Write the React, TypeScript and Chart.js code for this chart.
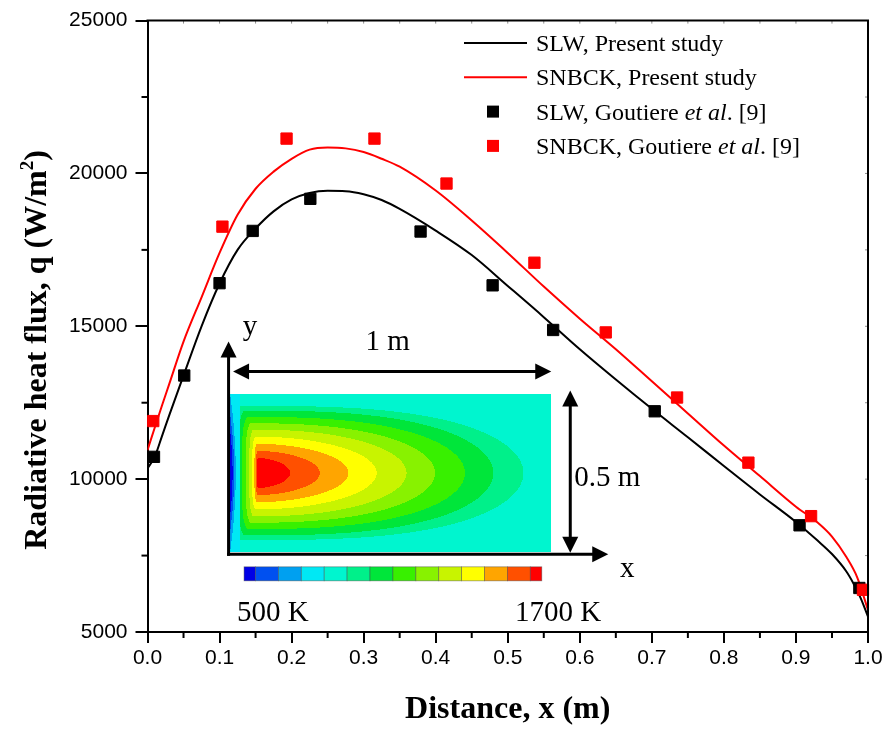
import { useEffect, useRef } from "react";
import { Chart, registerables } from "chart.js";

Chart.register(...registerables);

// Axis ticks
const X_TICKS = [0, 0.1, 0.2, 0.3, 0.4, 0.5, 0.6, 0.7, 0.8, 0.9, 1.0];
const Y_TICKS = [5000, 10000, 15000, 20000, 25000];

// SLW model, present study: wall distance (m) and radiative heat flux (W/m2)
const SLW_X = [0, 0.01, 0.02, 0.03, 0.05, 0.075, 0.1, 0.125, 0.15, 0.175, 0.2, 0.225, 0.25, 0.275, 0.3, 0.325, 0.35, 0.4, 0.45, 0.5, 0.55, 0.6, 0.65, 0.7, 0.75, 0.8, 0.85, 0.9, 0.93, 0.95, 0.97, 0.98, 0.99, 1.0];
const SLW_Q = [10350, 10730, 11400, 12080, 13390, 15000, 16400, 17500, 18200, 18760, 19150, 19360, 19430, 19420, 19320, 19130, 18840, 18130, 17330, 16320, 15300, 14250, 13260, 12300, 11370, 10430, 9500, 8600, 7990, 7550, 6980, 6580, 6100, 5500];

// SNBCK model, present study
const SNBCK_X = [0, 0.01, 0.02, 0.03, 0.05, 0.075, 0.1, 0.125, 0.15, 0.175, 0.2, 0.225, 0.25, 0.275, 0.3, 0.325, 0.35, 0.4, 0.45, 0.5, 0.55, 0.6, 0.65, 0.7, 0.75, 0.8, 0.85, 0.9, 0.93, 0.95, 0.97, 0.985, 1.0];
const SNBCK_Q = [10950, 11680, 12400, 13100, 14500, 15950, 17400, 18650, 19500, 20060, 20480, 20780, 20850, 20820, 20700, 20480, 20220, 19440, 18460, 17400, 16300, 15250, 14250, 13200, 12150, 11100, 10100, 9100, 8580, 8120, 7450, 6790, 5720];

// Reference results of Goutiere et al.
const SLW_REF_X = [0.009, 0.051, 0.1, 0.146, 0.226, 0.379, 0.479, 0.563, 0.704, 0.905, 0.988];
const SLW_REF_Q = [10730, 13390, 16410, 18120, 19170, 18100, 16340, 14880, 12220, 8490, 6440];
const SNBCK_REF_X = [0.008, 0.104, 0.193, 0.315, 0.415, 0.537, 0.636, 0.735, 0.834, 0.921, 0.993];
const SNBCK_REF_Q = [11900, 18260, 21140, 21140, 19670, 17080, 14800, 12670, 10540, 8790, 6380];

// Temperature colour scale of the enclosure sketch, 500 K to 1700 K
const TEMP_COLORS = ["#0000e6", "#0050f0", "#00a0f0", "#00e8f4", "#00f5cf", "#00f08a", "#00e63a", "#38f000", "#88f200", "#c8f400", "#ffff00", "#ffa500", "#ff5000", "#ff0000"];
const TEMP_MIN_LABEL = "500 K";
const TEMP_MAX_LABEL = "1700 K";

const SERIF = "'Liberation Serif', 'Times New Roman', serif";
const SANS = "'Liberation Sans', Arial, sans-serif";

// Flame temperature bands inside the enclosure, outermost first
const FLAME_BANDS = [
  { c: 5, u0: 0.031, tip: 0.914, h: 0.85, p: 3.0, a: 0.025 },
  { c: 6, u0: 0.047, tip: 0.82, h: 0.79, p: 2.8, a: 0.022 },
  { c: 7, u0: 0.057, tip: 0.732, h: 0.71, p: 2.6, a: 0.02 },
  { c: 8, u0: 0.066, tip: 0.639, h: 0.63, p: 2.4, a: 0.017 },
  { c: 9, u0: 0.074, tip: 0.55, h: 0.55, p: 2.2, a: 0.014 },
  { c: 10, u0: 0.08, tip: 0.457, h: 0.46, p: 2.0, a: 0.011 },
  { c: 11, u0: 0.085, tip: 0.369, h: 0.37, p: 1.9, a: 0.009 },
  { c: 12, u0: 0.087, tip: 0.28, h: 0.28, p: 1.8, a: 0.007 },
  { c: 13, u0: 0.089, tip: 0.187, h: 0.19, p: 1.7, a: 0.006 },
];

// Sketch placement in axis units
const INSET = { x0: 0.1146, x1: 0.5604, qTop: 12770, qBottom: 7590 };

function pairs(xs: number[], ys: number[]) {
  return xs.map((x, i) => ({ x, y: ys[i] }));
}

function hexRgb(h: string) {
  const n = parseInt(h.slice(1), 16);
  return [(n >> 16) & 255, (n >> 8) & 255, n & 255];
}

function flameColorIndex(u: number, v: number): number {
  const av = Math.abs(v);
  let c = 4;
  for (const b of FLAME_BANDS) {
    let inside: boolean;
    if (u >= b.u0) {
      const t = (u - b.u0) / (b.tip - b.u0);
      inside = t <= 1 && (av / b.h) ** 2 + t ** b.p <= 1;
    } else {
      const t = (b.u0 - u) / b.a;
      inside = t * t + (av / b.h) ** 4 <= 1;
    }
    if (inside) c = b.c;
  }
  // cooler layer along the inlet wall
  if (u < 0.03) c = 3;
  if (u < 0.018 * (1 - av * av)) c = 2;
  if (u < 0.013 * (1 - (av / 0.75) ** 2)) c = 1;
  if (u < 0.008 * (1 - (av / 0.55) ** 2)) c = 0;
  return c;
}

type Seg = { text: string; font: string; dy?: number };

function segsWidth(ctx: CanvasRenderingContext2D, segs: Seg[]) {
  let w = 0;
  for (const s of segs) {
    ctx.font = s.font;
    w += ctx.measureText(s.text).width;
  }
  return w;
}

function drawSegs(ctx: CanvasRenderingContext2D, segs: Seg[], x: number, y: number) {
  let cx = x;
  for (const s of segs) {
    ctx.font = s.font;
    ctx.fillText(s.text, cx, y + (s.dy || 0));
    cx += ctx.measureText(s.text).width;
  }
}

function labelSegs(label: string, size: number): Seg[] {
  return label
    .split(/(et al)/)
    .filter((t) => t.length > 0)
    .map((t) => ({ text: t, font: `${t === "et al" ? "italic " : ""}${size}px ${SERIF}` }));
}

function arrowHead(ctx: CanvasRenderingContext2D, tx: number, ty: number, dx: number, dy: number) {
  const len = 16;
  const half = 8;
  const bx = tx - dx * len;
  const by = ty - dy * len;
  ctx.beginPath();
  ctx.moveTo(tx, ty);
  ctx.lineTo(bx - dy * half, by + dx * half);
  ctx.lineTo(bx + dy * half, by - dx * half);
  ctx.closePath();
  ctx.fill();
}

function line(ctx: CanvasRenderingContext2D, x1: number, y1: number, x2: number, y2: number) {
  ctx.beginPath();
  ctx.moveTo(x1, y1);
  ctx.lineTo(x2, y2);
  ctx.stroke();
}

function drawInset(ctx: CanvasRenderingContext2D, xs: any, ys: any) {
  const L = xs.getPixelForValue(INSET.x0);
  const R = xs.getPixelForValue(INSET.x1);
  const T = ys.getPixelForValue(INSET.qTop);
  const B = ys.getPixelForValue(INSET.qBottom);
  const W = Math.round(R - L);
  const H = Math.round(B - T);

  // temperature field
  const off = document.createElement("canvas");
  off.width = W;
  off.height = H;
  const octx = off.getContext("2d")!;
  const img = octx.createImageData(W, H);
  const rgb = TEMP_COLORS.map(hexRgb);
  for (let j = 0; j < H; j++) {
    const v = (j + 0.5 - H / 2) / (H / 2);
    for (let i = 0; i < W; i++) {
      const u = (i + 0.5) / W;
      const col = rgb[flameColorIndex(u, v)];
      const k = (j * W + i) * 4;
      img.data[k] = col[0];
      img.data[k + 1] = col[1];
      img.data[k + 2] = col[2];
      img.data[k + 3] = 255;
    }
  }
  octx.putImageData(img, 0, 0);
  ctx.save();
  ctx.filter = "blur(0.6px)";
  ctx.drawImage(off, Math.round(L), Math.round(T));
  ctx.restore();

  ctx.save();
  ctx.strokeStyle = "#000";
  ctx.fillStyle = "#000";
  ctx.lineWidth = 3;
  ctx.lineCap = "butt";

  // sketch axes
  const ax = L - 1.5;
  const ay = B + 1.5;
  line(ctx, ax, ay + 1.5, ax, T - 53 + 14);
  arrowHead(ctx, ax, T - 53, 0, -1);
  line(ctx, ax - 1.5, ay, R + 57 - 14, ay);
  arrowHead(ctx, R + 57, ay, 1, 0);

  // dimension arrows
  const wy = T - 23;
  line(ctx, L + 3 + 14, wy, R - 14, wy);
  arrowHead(ctx, L + 3, wy, -1, 0);
  arrowHead(ctx, R, wy, 1, 0);
  const hx = R + 19;
  line(ctx, hx, T - 4 + 14, hx, B - 14);
  arrowHead(ctx, hx, T - 4, 0, -1);
  arrowHead(ctx, hx, B, 0, 1);

  ctx.font = `29px ${SERIF}`;
  ctx.textBaseline = "alphabetic";
  ctx.textAlign = "center";
  ctx.fillText("y", L + 20, T - 59);
  ctx.fillText("1 m", (L + R) / 2 - 3, T - 44);
  ctx.fillText("x", R + 76, B + 24);
  ctx.textAlign = "left";
  ctx.fillText("0.5 m", R + 23, (T + B) / 2 + 12);

  // colour scale
  const cl = L + 14;
  const cw = 297.7;
  const ct = B + 14;
  const ch = 14;
  const unit = cw / (TEMP_COLORS.length - 1);
  TEMP_COLORS.forEach((c, k) => {
    const x0 = cl + (k === 0 ? 0 : (k - 0.5) * unit);
    const x1 = cl + (k === TEMP_COLORS.length - 1 ? cw : (k + 0.5) * unit);
    ctx.fillStyle = c;
    ctx.fillRect(x0, ct, x1 - x0, ch);
    ctx.strokeStyle = "rgba(70,70,70,0.55)";
    ctx.lineWidth = 0.8;
    ctx.strokeRect(x0, ct, x1 - x0, ch);
  });
  ctx.fillStyle = "#000";
  ctx.fillText(TEMP_MIN_LABEL, L + 7, B + 68);
  ctx.fillText(TEMP_MAX_LABEL, L + 285, B + 68);
  ctx.restore();
}

const decorations = {
  id: "decorations",
  afterDraw(chart: any) {
    const { ctx, chartArea: ca, scales } = chart;
    const xs = scales.x;
    const ys = scales.y;
    ctx.save();
    ctx.strokeStyle = "#000";
    ctx.fillStyle = "#000";

    // closing frame
    ctx.lineWidth = 2;
    ctx.beginPath();
    ctx.moveTo(ca.left - 1, ca.top);
    ctx.lineTo(ca.right, ca.top);
    ctx.lineTo(ca.right, ca.bottom + 1);
    ctx.stroke();

    // minor ticks and short inner ticks on the frame
    for (let i = 0; i < X_TICKS.length - 1; i++) {
      const px = xs.getPixelForValue((X_TICKS[i] + X_TICKS[i + 1]) / 2);
      line(ctx, px, ca.bottom, px, ca.bottom + 6);
    }
    for (let i = 0; i < Y_TICKS.length - 1; i++) {
      const py = ys.getPixelForValue((Y_TICKS[i] + Y_TICKS[i + 1]) / 2);
      line(ctx, ca.left, py, ca.left - 6, py);
    }
    ctx.lineWidth = 1;
    ctx.strokeStyle = "rgba(0,0,0,0.45)";
    for (let i = 0; i < X_TICKS.length - 1; i++) {
      for (const v of [X_TICKS[i], (X_TICKS[i] + X_TICKS[i + 1]) / 2]) {
        const px = xs.getPixelForValue(v);
        line(ctx, px, ca.top, px, ca.top + 3);
      }
    }
    for (let i = 0; i < Y_TICKS.length - 1; i++) {
      for (const v of [Y_TICKS[i], (Y_TICKS[i] + Y_TICKS[i + 1]) / 2]) {
        const py = ys.getPixelForValue(v);
        line(ctx, ca.right, py, ca.right - 3, py);
      }
    }

    drawInset(ctx, xs, ys);

    // legend
    const legendItems = [3, 2, 1, 0].map((i) => chart.data.datasets[i]);
    const lx = 464;
    const ly = 43;
    const rowH = 34.3;
    legendItems.forEach((ds: any, k: number) => {
      const cy = ly + k * rowH;
      if (ds.showLine === false) {
        ctx.fillStyle = ds.backgroundColor;
        ctx.fillRect(lx + 23, cy - 6, 12, 12);
      } else {
        ctx.strokeStyle = ds.borderColor;
        ctx.lineWidth = 2;
        line(ctx, lx, cy, lx + 63, cy);
      }
      ctx.fillStyle = "#000";
      ctx.textAlign = "left";
      ctx.textBaseline = "alphabetic";
      drawSegs(ctx, labelSegs(ds.label, 24), lx + 72, cy + 8);
    });

    // axis titles
    ctx.fillStyle = "#000";
    ctx.textBaseline = "alphabetic";
    ctx.textAlign = "left";
    const xt: Seg[] = [{ text: "Distance, x (m)", font: `bold 32px ${SERIF}` }];
    const xw = segsWidth(ctx, xt);
    drawSegs(ctx, xt, (ca.left + ca.right) / 2 - xw / 2, 718);

    const yt: Seg[] = [
      { text: "Radiative heat flux, q (W/m", font: `bold 32px ${SERIF}` },
      { text: "2", font: `bold 19px ${SERIF}`, dy: -13 },
      { text: ")", font: `bold 32px ${SERIF}` },
    ];
    const yw = segsWidth(ctx, yt);
    ctx.translate(46, 350);
    ctx.rotate(-Math.PI / 2);
    drawSegs(ctx, yt, -yw / 2, 0);
    ctx.restore();
  },
};

export default function App() {
  const ref = useRef<HTMLCanvasElement>(null);

  useEffect(() => {
    const chart = new Chart(ref.current!, {
      type: "line",
      data: {
        datasets: [
          {
            label: "SNBCK, Goutiere et al. [9]",
            data: pairs(SNBCK_REF_X, SNBCK_REF_Q),
            showLine: false,
            pointStyle: "rect",
            pointRadius: 8,
            borderWidth: 1,
            backgroundColor: "#ff0000",
            borderColor: "#ff0000",
            order: 0,
            clip: false,
          },
          {
            label: "SLW, Goutiere et al. [9]",
            data: pairs(SLW_REF_X, SLW_REF_Q),
            showLine: false,
            pointStyle: "rect",
            pointRadius: 8,
            borderWidth: 1,
            backgroundColor: "#000000",
            borderColor: "#000000",
            order: 1,
            clip: false,
          },
          {
            label: "SNBCK, Present study",
            data: pairs(SNBCK_X, SNBCK_Q),
            borderColor: "#ff0000",
            backgroundColor: "#ff0000",
            borderWidth: 2,
            pointRadius: 0,
            cubicInterpolationMode: "monotone",
            fill: false,
            order: 2,
          },
          {
            label: "SLW, Present study",
            data: pairs(SLW_X, SLW_Q),
            borderColor: "#000000",
            backgroundColor: "#000000",
            borderWidth: 2,
            pointRadius: 0,
            cubicInterpolationMode: "monotone",
            fill: false,
            order: 3,
          },
        ] as any,
      },
      options: {
        animation: false,
        responsive: false,
        devicePixelRatio: 1,
        layout: { padding: { left: 0, top: 14, right: 20, bottom: 0 } },
        plugins: { legend: { display: false }, tooltip: { enabled: false } },
        events: [],
        scales: {
          x: {
            type: "linear",
            min: 0,
            max: 1,
            afterBuildTicks: (s: any) => {
              s.ticks = X_TICKS.map((v) => ({ value: v }));
            },
            afterFit: (s: any) => {
              s.height = 99;
            },
            ticks: {
              callback: (v: any) => Number(v).toFixed(1),
              font: { family: SANS, size: 21 },
              color: "#000",
              padding: 3,
              maxRotation: 0,
              autoSkip: false,
            },
            grid: { drawOnChartArea: false, tickLength: 11, color: "#000", lineWidth: 2 },
            border: { color: "#000", width: 2 },
          },
          y: {
            type: "linear",
            min: 5000,
            max: 25000,
            afterBuildTicks: (s: any) => {
              s.ticks = Y_TICKS.map((v) => ({ value: v }));
            },
            afterFit: (s: any) => {
              s.width = 147.5;
            },
            ticks: {
              callback: (v: any) => String(v),
              font: { family: SANS, size: 21 },
              color: "#000",
              padding: 8,
              autoSkip: false,
            },
            grid: { drawOnChartArea: false, tickLength: 12, color: "#000", lineWidth: 2 },
            border: { color: "#000", width: 2 },
          },
        },
      } as any,
      plugins: [decorations],
    });
    return () => chart.destroy();
  }, []);

  return (
    <div style={{ position: "absolute", left: 0, top: 0, width: 888, height: 731, background: "#fff" }}>
      <canvas ref={ref} width={888} height={731} style={{ display: "block" }} />
    </div>
  );
}
